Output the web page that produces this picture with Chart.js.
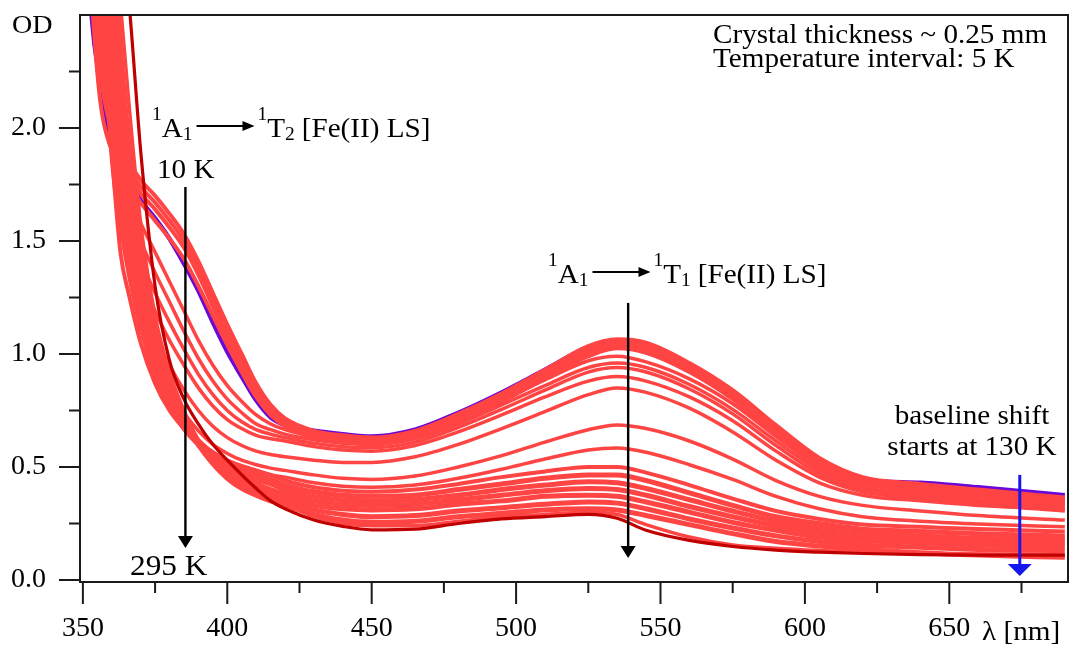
<!DOCTYPE html>
<html>
<head>
<meta charset="utf-8">
<script src="https://cdn.jsdelivr.net/npm/chart.js@4.4.0/dist/chart.umd.min.js"></script>
<style>
  html, body { margin: 0; padding: 0; background: #fff; }
  #wrap { width: 1076px; height: 645px; }
</style>
</head>
<body>
<div id="wrap"><canvas id="spectra"></canvas></div>
<script>
// wavelength grid (nm) shared by every spectrum
const wavelengths = [350, 353, 356, 360, 363, 366, 370, 375, 380, 385, 390, 395, 400, 405, 410, 415, 420, 430, 440, 450,
                     465, 480, 495, 510, 525, 535, 545, 560, 575, 590, 605, 620, 640, 660, 690];

// optical density (values above 2.5 fall outside the frame)
const od10K   = [3.2, 2.5, 2.2, 1.93, 1.83, 1.76, 1.68, 1.60, 1.51, 1.40, 1.28, 1.14, 1.01, 0.90, 0.795, 0.72, 0.685, 0.66, 0.645, 0.635,
                 0.665, 0.74, 0.83, 0.93, 1.03, 1.06, 1.045, 0.95, 0.83, 0.67, 0.52, 0.445, 0.43, 0.41, 0.375];
const lsBand1 = [4.0, 3.0, 2.45, 2.08, 1.93, 1.85, 1.77, 1.70, 1.62, 1.53, 1.41, 1.27, 1.13, 1.00, 0.87, 0.775, 0.715, 0.66, 0.64, 0.63,
                 0.66, 0.735, 0.825, 0.93, 1.035, 1.065, 1.05, 0.96, 0.84, 0.685, 0.54, 0.455, 0.425, 0.40, 0.365];
const lsBand2 = [3.8, 2.85, 2.35, 2.03, 1.90, 1.82, 1.74, 1.67, 1.59, 1.50, 1.38, 1.24, 1.10, 0.97, 0.85, 0.76, 0.70, 0.65, 0.63, 0.62,
                 0.65, 0.725, 0.815, 0.915, 1.02, 1.05, 1.035, 0.945, 0.825, 0.67, 0.525, 0.445, 0.415, 0.39, 0.355];
const lsBand3 = [3.6, 2.7, 2.25, 1.98, 1.87, 1.79, 1.71, 1.64, 1.56, 1.47, 1.35, 1.21, 1.07, 0.945, 0.83, 0.745, 0.69, 0.64, 0.62, 0.61,
                 0.64, 0.715, 0.805, 0.905, 1.005, 1.04, 1.02, 0.93, 0.81, 0.655, 0.51, 0.435, 0.405, 0.38, 0.345];
const lsBand4 = [3.4, 2.6, 2.12, 1.9, 1.82, 1.75, 1.67, 1.59, 1.51, 1.42, 1.30, 1.17, 1.04, 0.92, 0.81, 0.73, 0.68, 0.63, 0.61, 0.60,
                 0.63, 0.70, 0.79, 0.89, 0.99, 1.025, 1.005, 0.92, 0.80, 0.645, 0.50, 0.425, 0.395, 0.37, 0.335];
const mid1 = [3.8, 2.9, 2.4, 2.0, 1.82, 1.70, 1.58, 1.45, 1.32, 1.19, 1.06, 0.95, 0.86, 0.79, 0.73, 0.69, 0.665, 0.635, 0.62, 0.615,
              0.64, 0.71, 0.795, 0.885, 0.97, 0.99, 0.965, 0.89, 0.78, 0.635, 0.50, 0.425, 0.395, 0.37, 0.335];
const mid2 = [3.8, 2.95, 2.45, 2.0, 1.78, 1.64, 1.50, 1.36, 1.23, 1.10, 0.98, 0.88, 0.80, 0.74, 0.69, 0.665, 0.645, 0.62, 0.605, 0.60,
              0.625, 0.69, 0.775, 0.86, 0.94, 0.96, 0.94, 0.865, 0.755, 0.615, 0.485, 0.41, 0.38, 0.355, 0.325];
const mid3 = [3.8, 3.0, 2.5, 1.98, 1.74, 1.58, 1.42, 1.27, 1.14, 1.02, 0.91, 0.82, 0.75, 0.70, 0.665, 0.645, 0.63, 0.605, 0.59, 0.585,
              0.61, 0.675, 0.755, 0.84, 0.92, 0.94, 0.92, 0.845, 0.735, 0.595, 0.47, 0.40, 0.37, 0.345, 0.315];
const mid4 = [3.8, 3.05, 2.55, 1.95, 1.70, 1.52, 1.35, 1.19, 1.06, 0.95, 0.85, 0.77, 0.71, 0.67, 0.64, 0.625, 0.615, 0.59, 0.575, 0.57,
              0.595, 0.655, 0.73, 0.81, 0.88, 0.90, 0.88, 0.81, 0.705, 0.57, 0.455, 0.39, 0.36, 0.335, 0.305];
const mid5 = [3.9, 3.1, 2.6, 1.92, 1.65, 1.45, 1.25, 1.08, 0.95, 0.84, 0.75, 0.68, 0.63, 0.595, 0.57, 0.555, 0.545, 0.53, 0.52, 0.52,
              0.545, 0.60, 0.67, 0.745, 0.82, 0.85, 0.83, 0.76, 0.655, 0.53, 0.43, 0.375, 0.35, 0.33, 0.315];
const mid6 = [3.9, 3.15, 2.65, 1.88, 1.60, 1.39, 1.17, 0.99, 0.85, 0.74, 0.66, 0.60, 0.56, 0.53, 0.51, 0.495, 0.485, 0.465, 0.45, 0.445,
              0.46, 0.50, 0.55, 0.61, 0.665, 0.686, 0.67, 0.615, 0.535, 0.44, 0.37, 0.33, 0.305, 0.285, 0.265];
const mid7 = [4.0, 3.2, 2.7, 1.85, 1.56, 1.34, 1.11, 0.93, 0.79, 0.69, 0.62, 0.565, 0.53, 0.50, 0.48, 0.465, 0.455, 0.43, 0.415, 0.41,
              0.42, 0.45, 0.49, 0.535, 0.575, 0.584, 0.565, 0.51, 0.445, 0.37, 0.315, 0.28, 0.26, 0.248, 0.235];
const hsBand1 = [4.0, 3.3, 2.7, 1.9, 1.45, 1.26, 1.05, 0.87, 0.75, 0.67, 0.61, 0.565, 0.53, 0.505, 0.485, 0.465, 0.44, 0.41, 0.395, 0.39,
                 0.40, 0.425, 0.455, 0.48, 0.50, 0.50, 0.475, 0.42, 0.36, 0.305, 0.27, 0.245, 0.235, 0.225, 0.215];
const hsBand2 = [4.2, 3.5, 2.9, 2.15, 1.65, 1.38, 1.13, 0.91, 0.77, 0.67, 0.60, 0.55, 0.51, 0.485, 0.465, 0.445, 0.42, 0.39, 0.375, 0.37,
                 0.375, 0.40, 0.425, 0.45, 0.465, 0.465, 0.44, 0.385, 0.33, 0.28, 0.25, 0.225, 0.215, 0.205, 0.195];
const hsBand3 = [4.4, 3.7, 3.1, 2.35, 1.83, 1.50, 1.20, 0.95, 0.79, 0.68, 0.60, 0.54, 0.50, 0.47, 0.445, 0.425, 0.40, 0.37, 0.355, 0.35,
                 0.355, 0.375, 0.40, 0.42, 0.435, 0.43, 0.405, 0.355, 0.305, 0.26, 0.23, 0.21, 0.195, 0.185, 0.18];
const hsBand4 = [4.5, 3.9, 3.3, 2.55, 2.0, 1.62, 1.27, 0.99, 0.81, 0.69, 0.60, 0.53, 0.485, 0.45, 0.425, 0.40, 0.38, 0.35, 0.335, 0.33,
                 0.335, 0.355, 0.375, 0.395, 0.405, 0.40, 0.375, 0.325, 0.28, 0.24, 0.21, 0.19, 0.18, 0.17, 0.165];
const hsBand5 = [4.6, 4.0, 3.45, 2.7, 2.15, 1.74, 1.35, 1.04, 0.84, 0.70, 0.60, 0.525, 0.47, 0.435, 0.405, 0.38, 0.36, 0.33, 0.315, 0.31,
                 0.315, 0.335, 0.35, 0.37, 0.375, 0.37, 0.345, 0.30, 0.255, 0.22, 0.19, 0.175, 0.165, 0.155, 0.15];
const hsBand6 = [4.7, 4.1, 3.6, 2.8, 2.25, 1.82, 1.40, 1.07, 0.86, 0.71, 0.60, 0.52, 0.46, 0.42, 0.39, 0.365, 0.345, 0.31, 0.29, 0.28,
                 0.285, 0.305, 0.32, 0.335, 0.345, 0.34, 0.315, 0.27, 0.23, 0.195, 0.17, 0.155, 0.145, 0.135, 0.13];
const hsBand7 = [4.8, 4.2, 3.7, 2.9, 2.35, 1.92, 1.46, 1.11, 0.88, 0.72, 0.60, 0.515, 0.45, 0.405, 0.375, 0.35, 0.335, 0.29, 0.265, 0.255,
                 0.26, 0.28, 0.295, 0.31, 0.315, 0.31, 0.285, 0.245, 0.205, 0.17, 0.15, 0.135, 0.12, 0.11, 0.10];
const od290K  = [4.9, 4.3, 3.7, 3.05, 2.55, 2.1, 1.58, 1.17, 0.92, 0.75, 0.62, 0.53, 0.46, 0.41, 0.375, 0.35, 0.33, 0.28, 0.25, 0.24,
                 0.24, 0.26, 0.28, 0.29, 0.30, 0.29, 0.245, 0.19, 0.155, 0.14, 0.13, 0.123, 0.117, 0.115, 0.113];
const od295K  = [5.0, 4.6, 4.0, 3.4, 2.9, 2.55, 1.9, 1.30, 0.97, 0.80, 0.69, 0.60, 0.53, 0.465, 0.405, 0.35, 0.315, 0.265, 0.237, 0.222,
                 0.225, 0.25, 0.27, 0.28, 0.29, 0.273, 0.22, 0.175, 0.148, 0.132, 0.123, 0.117, 0.112, 0.11, 0.11];

// axis ticks
const xMajorTicks = [350, 400, 450, 500, 550, 600, 650];
const xMinorTicks = [375, 425, 475, 525, 575, 625, 675];
const xTickLabels = ['350', '400', '450', '500', '550', '600', '650'];
const yMajorTicks = [0, 0.5, 1.0, 1.5, 2.0];
const yMinorTicks = [0.25, 0.75, 1.25, 1.75, 2.25];
const yTickLabels = ['0.0', '0.5', '1.0', '1.5', '2.0'];

const RED = '#ff4444', VIOLET = '#6a08d8', DARKRED = '#c00000';
const SERIF = '"Liberation Serif", "Times New Roman", serif';
const STRETCH = 1.08;

const curves = [
    { label: '295 K', values: od295K, color: DARKRED, width: 3.2, order: 0 },
    { label: '290 K', values: od290K, color: RED, width: 3.5, order: 1 },
    { label: 'HS 7', values: hsBand7, color: RED, width: 5, order: 1 },
    { label: 'HS 6', values: hsBand6, color: RED, width: 5, order: 1 },
    { label: 'HS 5', values: hsBand5, color: RED, width: 5, order: 1 },
    { label: 'HS 4', values: hsBand4, color: RED, width: 5, order: 1 },
    { label: 'HS 3', values: hsBand3, color: RED, width: 5, order: 1 },
    { label: 'HS 2', values: hsBand2, color: RED, width: 5, order: 1 },
    { label: 'HS 1', values: hsBand1, color: RED, width: 4, order: 1 },
    { label: 'mid 7', values: mid7, color: RED, width: 3.5, order: 1 },
    { label: 'mid 6', values: mid6, color: RED, width: 3.5, order: 1 },
    { label: 'mid 5', values: mid5, color: RED, width: 3.5, order: 1 },
    { label: 'mid 4', values: mid4, color: RED, width: 3.5, order: 1 },
    { label: 'mid 3', values: mid3, color: RED, width: 3.5, order: 1 },
    { label: 'mid 2', values: mid2, color: RED, width: 3.5, order: 1 },
    { label: 'mid 1', values: mid1, color: RED, width: 3.5, order: 1 },
    { label: 'LS 4', values: lsBand4, color: RED, width: 4, order: 1 },
    { label: 'LS 3', values: lsBand3, color: RED, width: 4, order: 1 },
    { label: 'LS 2', values: lsBand2, color: RED, width: 4, order: 1 },
    { label: 'LS 1', values: lsBand1, color: RED, width: 4, order: 1 },
    { label: '10 K', values: od10K, color: VIOLET, width: 4.5, order: 2 }
];

// arrows, in data units (lambda, OD from -> OD to)
const arrows = [
    { lambda: 385.5, from: 1.739, to: 0.142, color: '#000', width: 2.4, head: 15 },
    { lambda: 538.8, from: 1.226, to: 0.097, color: '#000', width: 2.4, head: 15 },
    { lambda: 674.4, from: 0.465, to: 0.018, color: '#1616ee', width: 3, head: 24 }
];

function put(ctx, str, px, py, size, align) {
    ctx.save();
    ctx.font = size + 'px ' + SERIF;
    const w = ctx.measureText(str).width * STRETCH;
    let left = px;
    if (align === 'center') left = px - w / 2;
    if (align === 'right') left = px - w;
    ctx.translate(left, py);
    ctx.scale(STRETCH, 1);
    ctx.textAlign = 'left';
    ctx.textBaseline = 'alphabetic';
    ctx.fillText(str, 0, 0);
    ctx.restore();
    return w;
}

function transition(ctx, px, py, upper) {
    let cx = px;
    cx += put(ctx, '1', cx, py - 17, 18);
    cx += put(ctx, 'A', cx, py, 27);
    cx += put(ctx, '1', cx, py + 3, 18);
    cx += 4;
    const ay = py - 11;
    ctx.beginPath();
    ctx.moveTo(cx, ay);
    ctx.lineTo(cx + 48, ay);
    ctx.lineWidth = 1.8;
    ctx.stroke();
    ctx.beginPath();
    ctx.moveTo(cx + 58, ay);
    ctx.lineTo(cx + 46, ay - 5);
    ctx.lineTo(cx + 46, ay + 5);
    ctx.closePath();
    ctx.fill();
    cx += 61;
    cx += put(ctx, '1', cx, py - 17, 18);
    cx += put(ctx, 'T', cx, py, 27);
    cx += put(ctx, upper, cx, py + 3, 18);
    cx += 7;
    put(ctx, '[Fe(II) LS]', cx, py, 27);
}

const annotate = {
    id: 'annotate',
    afterDraw(chart) {
        const { ctx, chartArea: a, scales: { x, y } } = chart;
        ctx.save();
        ctx.strokeStyle = '#1a1a1a';
        ctx.fillStyle = '#000';
        ctx.lineWidth = 2;
        ctx.strokeRect(a.left, a.top, a.right - a.left, a.bottom - a.top);

        // tick marks pointing outwards
        ctx.beginPath();
        yMajorTicks.forEach(v => { const p = y.getPixelForValue(v); ctx.moveTo(a.left, p); ctx.lineTo(a.left - 21, p); });
        yMinorTicks.forEach(v => { const p = y.getPixelForValue(v); ctx.moveTo(a.left, p); ctx.lineTo(a.left - 11, p); });
        xMajorTicks.forEach(v => { const p = x.getPixelForValue(v); ctx.moveTo(p, a.bottom); ctx.lineTo(p, a.bottom + 22); });
        xMinorTicks.forEach(v => { const p = x.getPixelForValue(v); ctx.moveTo(p, a.bottom); ctx.lineTo(p, a.bottom + 11); });
        ctx.stroke();

        // arrows
        arrows.forEach(ar => {
            const px = x.getPixelForValue(ar.lambda);
            const y1 = y.getPixelForValue(ar.from), y2 = y.getPixelForValue(ar.to);
            const hl = 12;
            ctx.strokeStyle = ar.color;
            ctx.fillStyle = ar.color;
            ctx.lineWidth = ar.width;
            ctx.beginPath();
            ctx.moveTo(px, y1);
            ctx.lineTo(px, y2 - hl + 1);
            ctx.stroke();
            ctx.beginPath();
            ctx.moveTo(px, y2);
            ctx.lineTo(px - ar.head / 2, y2 - hl);
            ctx.lineTo(px + ar.head / 2, y2 - hl);
            ctx.closePath();
            ctx.fill();
        });

        ctx.fillStyle = '#000';
        ctx.strokeStyle = '#000';
        put(ctx, 'OD', 12, 33, 26);
        put(ctx, 'λ [nm]', 982, 640, 27);
        put(ctx, 'Crystal thickness ~ 0.25 mm', 713, 43, 27);
        put(ctx, 'Temperature interval: 5 K', 713, 67, 27);
        transition(ctx, 152, 137, '2');
        transition(ctx, 548, 283, '1');
        put(ctx, '10 K', 157, 178, 27);
        put(ctx, '295 K', 130, 575, 29);
        put(ctx, 'baseline shift', 972, 424, 27, 'center');
        put(ctx, 'starts at 130 K', 972, 455, 27, 'center');
        ctx.restore();
    }
};

new Chart(document.getElementById('spectra'), {
    type: 'line',
    data: {
        datasets: curves.map(c => ({
            label: c.label,
            data: wavelengths.map((w, i) => ({ x: w, y: c.values[i] })),
            borderColor: c.color,
            borderWidth: c.width,
            pointRadius: 0,
            cubicInterpolationMode: 'monotone',
            fill: false,
            clip: 0,
            order: c.order
        }))
    },
    options: {
        responsive: true,
        maintainAspectRatio: false,
        animation: false,
        devicePixelRatio: 1,
        events: [],
        layout: { padding: { top: 15, right: 8, left: 0, bottom: 0 } },
        plugins: { legend: { display: false }, tooltip: { enabled: false } },
        scales: {
            x: {
                type: 'linear',
                min: 349,
                max: 691.1,
                grid: { display: false, drawTicks: false },
                border: { display: false },
                afterBuildTicks: s => { s.ticks = [...xMajorTicks, ...xMinorTicks].sort((p, q) => p - q).map(v => ({ value: v })); },
                afterFit: s => { s.height = 63; s.paddingLeft = 0; s.paddingRight = 0; },
                ticks: {
                    autoSkip: false,
                    maxRotation: 0,
                    padding: 30,
                    color: '#000',
                    font: { family: SERIF, size: 28 },
                    callback: v => { const i = xMajorTicks.indexOf(v); return i >= 0 ? xTickLabels[i] : ''; }
                }
            },
            y: {
                min: -0.009,
                max: 2.5,
                grid: { display: false, drawTicks: false },
                border: { display: false },
                afterBuildTicks: s => { s.ticks = [...yMajorTicks, ...yMinorTicks].sort((p, q) => p - q).map(v => ({ value: v })); },
                afterFit: s => { s.width = 80; s.paddingTop = 0; s.paddingBottom = 0; },
                ticks: {
                    autoSkip: false,
                    padding: 34,
                    color: '#000',
                    font: { family: SERIF, size: 28 },
                    callback: v => { const i = yMajorTicks.indexOf(v); return i >= 0 ? yTickLabels[i] : ''; }
                }
            }
        }
    },
    plugins: [annotate]
});
</script>
</body>
</html>
